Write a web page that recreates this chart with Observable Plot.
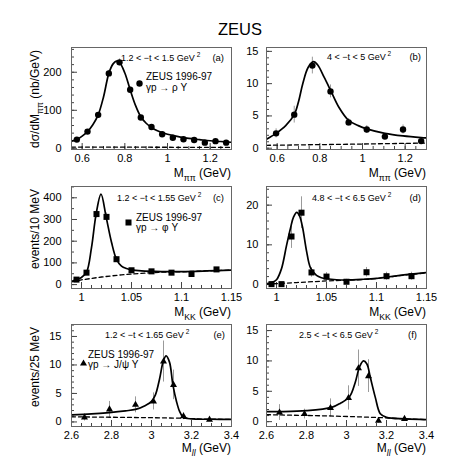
<!DOCTYPE html>
<html><head><meta charset="utf-8">
<script src="https://cdn.jsdelivr.net/npm/d3@7"></script>
<script src="https://cdn.jsdelivr.net/npm/@observablehq/plot@0.6"></script>
<style>
html,body{margin:0;padding:0;background:#fff;}
#chart{position:relative;width:474px;height:474px;font-family:"Liberation Sans",Arial,Helvetica,sans-serif;}
#chart svg{position:absolute;overflow:visible;}
#title{position:absolute;left:0;width:480px;top:21px;text-align:center;font-size:16.5px;line-height:16.5px;color:#000;}
</style></head><body>
<div id="chart"><div id="title">ZEUS</div></div>
<script>
// ---------- data ----------
// (a) rho, 1.2 < -t < 1.5 GeV^2
const rhoA_m   = [0.575,0.625,0.675,0.725,0.775,0.825,0.875,0.925,0.975,1.025,1.075,1.125,1.175,1.225,1.275];
const rhoA_val = [23,44,88,197,226,154,81,56,37,28,24,22,15,19,15];
const rhoA_err = [3,4,6,8,9,7,5,4,3,3,2,2,2,2,2];
const rhoA_fitM = [0.55,0.575,0.6,0.625,0.65,0.675,0.7,0.725,0.745,0.76,0.775,0.8,0.825,0.85,0.875,0.9,0.925,0.95,1.0,1.05,1.1,1.15,1.2,1.25,1.3];
const rhoA_fitV = [19,23,32,44,62,88,135,197,222,229,226,198,154,113,83,66,55,47,37,31,26,23,20,18,16];
const rhoA_bgM = [0.55,0.9,1.3];
const rhoA_bgV = [3.5,3,2.5];

// (b) rho, 4 < -t < 5 GeV^2
const rhoB_m   = [0.595,0.68,0.765,0.85,0.935,1.02,1.105,1.19,1.275];
const rhoB_val = [2.3,5.2,12.8,8.8,4.0,2.9,1.8,2.9,1.1];
const rhoB_err = [0.7,1.3,1.3,1.0,0.6,0.6,0.4,0.7,0.4];
const rhoB_fitM = [0.55,0.595,0.64,0.68,0.70,0.72,0.745,0.77,0.79,0.82,0.85,0.89,0.935,0.98,1.02,1.105,1.19,1.275,1.3];
const rhoB_fitV = [1.4,2.3,3.5,5.2,7.2,10.0,12.5,13.4,12.9,11.0,9.0,6.3,4.3,3.5,3.0,2.3,1.9,1.65,1.6];
const rhoB_bgM = [0.55,0.9,1.3];
const rhoB_bgV = [0.45,0.6,0.8];

// (c) phi, 1.2 < -t < 1.55 GeV^2
const phiC_m   = [0.995,1.005,1.015,1.025,1.035,1.05,1.07,1.09,1.11,1.135];
const phiC_val = [23,55,325,312,117,66,61,55,49,70];
const phiC_err = [5,7,18,18,11,8,8,7,7,8];
const phiC_fitM = [0.99,0.995,1.0,1.005,1.01,1.0146,1.0195,1.0247,1.03,1.035,1.04,1.045,1.05,1.06,1.08,1.1,1.125,1.15];
const phiC_fitV = [14,23,33,56,170,325,417,310,195,116,85,74,68,63,60,60,63,67];
const phiC_bgM = [0.99,1.0,1.02,1.04,1.06,1.08,1.1,1.125,1.15];
const phiC_bgV = [12,22,35,45,52,57,59,63,67];

// (d) phi, 4.8 < -t < 6.5 GeV^2
const phiD_m   = [0.995,1.005,1.015,1.025,1.035,1.05,1.07,1.09,1.11,1.135];
const phiD_val = [0.1,0.1,12.1,18.1,3.05,2.0,0.7,3.1,2.1,2.1];
const phiD_err = [0.4,0.4,3.0,4.0,1.2,1.0,0.6,1.2,1.0,1.0];
const phiD_fitM = [0.99,0.995,1.0,1.005,1.01,1.014,1.017,1.0203,1.023,1.026,1.03,1.034,1.04,1.045,1.05,1.06,1.07,1.085,1.1,1.12,1.15];
const phiD_fitV = [0.2,0.5,1.2,4.0,9.8,14.2,17.0,18.2,17.3,14.5,8.5,4.2,2.3,1.7,1.45,1.2,1.15,1.3,1.55,2.2,3.0];
const phiD_bgM = [0.99,1.02,1.05,1.07,1.085,1.1,1.12,1.15];
const phiD_bgV = [0.1,0.5,0.9,1.1,1.25,1.5,2.15,2.95];

// (e) J/psi, 1.2 < -t < 1.65 GeV^2
const psiE_m   = [2.665,2.79,2.92,3.01,3.06,3.11,3.16,3.29];
const psiE_val = [0.77,2.2,3.0,3.6,10.6,6.5,1.0,0.4];
const psiE_err = [0.6,1.4,1.4,1.5,3.6,2.6,0.6,0.3];
const psiE_fitM = [2.6,2.7,2.79,2.87,2.92,2.97,3.0,3.02,3.04,3.06,3.073,3.09,3.107,3.125,3.14,3.157,3.18,3.22,3.3,3.4];
const psiE_fitV = [1.25,1.4,1.65,1.95,2.2,2.9,3.6,4.8,7.5,10.8,11.6,10.5,6.5,3.6,1.9,0.9,0.6,0.5,0.47,0.45];
const psiE_bgM = [2.6,3.0,3.16,3.25,3.4];
const psiE_bgV = [0.9,0.75,0.65,0.5,0.45];

// (f) J/psi, 2.5 < -t < 6.5 GeV^2
const psiF_m   = [2.665,2.79,2.92,3.01,3.06,3.11,3.16,3.29];
const psiF_val = [1.5,1.25,2.25,3.9,8.8,7.5,0.15,0.45];
const psiF_err = [1.3,0.8,1.5,2.0,3.0,2.7,0.4,0.3];
const psiF_fitM = [2.6,2.67,2.8,2.926,2.968,3.015,3.044,3.065,3.085,3.102,3.119,3.144,3.169,3.2,3.295,3.4];
const psiF_fitV = [1.65,1.65,1.8,2.35,3.0,4.1,6.5,9.0,10.0,9.5,7.3,4.0,1.3,0.7,0.45,0.33];
const psiF_bgM = [2.6,2.9,3.1,3.2,3.3,3.4];
const psiF_bgV = [1.15,0.95,0.75,0.62,0.45,0.33];

// tick labels
const rhoTicksX = [0.6,0.8,1,1.2];
const phiTicksX = [1,1.05,1.1,1.15];
const psiTicksX = [2.6,2.8,3,3.2,3.4];
const ticksYa = [0,100,200];
const ticksYb = [0,5,10,15];
const ticksYc = [0,100,200,300,400];
const ticksYd = [0,10,20];
const ticksYe = [0,5,10,15];

// ---------- layout ----------
const FONT = '"Liberation Sans", Arial, Helvetica, sans-serif';
const W = 237;
const COLS = [{left:0, ml:71, mr:6, pad:10}, {left:237, ml:29, mr:48, pad:8}];
const ROWS = [{top:30, h:150, mt:17, mb:31, xt:28}, {top:180, h:140, mt:6, mb:32, xt:28}, {top:320, h:154, mt:4, mb:48, xt:26}];
const fmt = d => String(Math.round(d * 1000) / 1000);
const steps = (a, b, s) => d3.range(Math.round(a / s), Math.round(b / s) + 1).map(i => +(i * s).toFixed(4));

function rich(sel, x, y, anchor, size, parts, rotate) {
  const t = sel.append("text").attr("x", x).attr("y", y).attr("text-anchor", anchor)
    .attr("font-size", size).attr("font-family", FONT).attr("fill", "#000");
  if (rotate) t.attr("transform", `rotate(${rotate},${x},${y})`);
  let shift = 0;
  for (const p of parts) {
    const sp = t.append("tspan").text(p.t);
    let target = 0, fs = size;
    if (p.s === "sub") { target = 0.3 * size; fs = 0.72 * size; }
    if (p.s === "sup") { target = -0.42 * size; fs = 0.72 * size; }
    sp.attr("dy", target - shift).attr("font-size", fs);
    if (p.i) sp.attr("font-style", "italic");
    shift = target;
  }
  return t;
}

function panel(cfg) {
  const c = COLS[cfg.col], r = ROWS[cfg.row];
  const fw = W - c.ml - c.mr, fh = r.h - r.mt - r.mb;
  const pts = cfg.m.map((m, i) => ({m, v: cfg.v[i], e: cfg.e[i]}));
  const fit = cfg.fitM.map((m, i) => ({m, v: cfg.fitV[i]}));
  const bg = cfg.bgM.map((m, i) => ({m, v: cfg.bgV[i]}));
  const inX = t => t >= cfg.xDomain[0] - 1e-9 && t <= cfg.xDomain[1] + 1e-9;
  const inY = t => t >= cfg.yDomain[0] && t <= cfg.yDomain[1];
  const marks = [
    Plot.axisX(cfg.xMajor, {tickSize: 0, tickPadding: 5, tickFormat: fmt, label: null, fontSize: 11}),
    Plot.axisY(cfg.yMajor, {tickSize: 0, tickPadding: c.pad, tickFormat: fmt, label: null, fontSize: 11}),
    Plot.tickX(cfg.xMajor.filter(inX), {x: d => d, insetTop: fh - 6, stroke: "#444"}),
    Plot.tickX(cfg.xMinor.filter(inX), {x: d => d, insetTop: fh - 3, stroke: "#444"}),
    Plot.tickY(cfg.yMajor.filter(inY), {y: d => d, insetRight: fw - 6, stroke: "#444"}),
    Plot.tickY(cfg.yMinor.filter(inY), {y: d => d, insetRight: fw - 3, stroke: "#444"}),
    Plot.ruleX(pts, {x: "m", y1: d => d.v - d.e, y2: d => d.v + d.e, stroke: "#9a9a9a", strokeWidth: 1, clip: true}),
    Plot.line(bg, {x: "m", y: "v", stroke: "#000", strokeWidth: 1.3, strokeDasharray: "4,3", clip: true}),
    Plot.line(fit, {x: "m", y: "v", curve: "catmull-rom", stroke: "#000", strokeWidth: 1.7, clip: true}),
    Plot.dot(pts, {x: "m", y: "v", symbol: cfg.symbol, r: cfg.r, fill: "#000", stroke: "none"}),
    Plot.frame({stroke: "#666"})
  ];
  if (cfg.legend) marks.push(Plot.dot([cfg.symbol], {frameAnchor: "top-left", dx: cfg.legend.mx, dy: cfg.legend.my, symbol: cfg.symbol, r: cfg.r, fill: "#000", stroke: "none"}));
  const svg = Plot.plot({
    width: W, height: r.h,
    marginLeft: c.ml, marginRight: c.mr, marginTop: r.mt, marginBottom: r.mb,
    style: {fontFamily: FONT, fontSize: "11px", background: "none", overflow: "visible", color: "#000"},
    x: {domain: cfg.xDomain, label: null},
    y: {domain: cfg.yDomain, label: null},
    marks
  });
  svg.style.left = c.left + "px";
  svg.style.top = r.top + "px";
  const s = d3.select(svg);
  const fl = c.ml, ft = r.mt, fr = W - c.mr, fb = r.h - r.mb;
  rich(s, fr, fb + r.xt, "end", 12, cfg.xTitle);
  if (cfg.yTitle) rich(s, 39, ft + 3, "end", 12, cfg.yTitle, -90);
  rich(s, fl + cfg.ann.dx, ft + cfg.ann.dy, "start", 9, [{t: cfg.range}, {t: "\u2009"}, {t: "2", s: "sup"}]);
  rich(s, fr - cfg.ann.tag, ft + cfg.ann.dy, "end", 9.5, [{t: cfg.label}]);
  if (cfg.legend) {
    rich(s, fl + cfg.legend.tx, ft + cfg.legend.t1, "start", 10, [{t: "ZEUS 1996-97"}]);
    rich(s, fl + cfg.legend.tx, ft + cfg.legend.t2, "start", 10, [{t: cfg.legend.proc}]);
  }
  document.getElementById("chart").appendChild(svg);
}

const xRho = [{t: "M"}, {t: "\u03c0\u03c0", s: "sub"}, {t: " (GeV)"}];
const xPhi = [{t: "M"}, {t: "KK", s: "sub"}, {t: " (GeV)"}];
const xPsi = [{t: "M"}, {t: "ll", s: "sub", i: true}, {t: " (GeV)"}];

panel({col: 0, row: 0, xDomain: [0.55, 1.3], yDomain: [-3, 265],
  xMajor: rhoTicksX, xMinor: steps(0.55, 1.3, 0.05), yMajor: ticksYa, yMinor: steps(0, 260, 20),
  m: rhoA_m, v: rhoA_val, e: rhoA_err, fitM: rhoA_fitM, fitV: rhoA_fitV, bgM: rhoA_bgM, bgV: rhoA_bgV,
  symbol: "circle", r: 3.2, xTitle: xRho,
  yTitle: [{t: "d\u03c3/dM"}, {t: "\u03c0\u03c0", s: "sub"}, {t: " (nb/GeV)"}],
  range: "1.2 < \u2212t < 1.5 GeV", label: "(a)", ann: {dx: 50, dy: 14, tag: 7},
  legend: {mx: 68, my: 36, tx: 75, t1: 33, t2: 44, proc: "\u03b3p \u2192 \u03c1 Y"}});

panel({col: 1, row: 0, xDomain: [0.55, 1.3], yDomain: [-0.2, 15.6],
  xMajor: rhoTicksX, xMinor: steps(0.55, 1.3, 0.05), yMajor: ticksYb, yMinor: steps(0, 15, 1),
  m: rhoB_m, v: rhoB_val, e: rhoB_err, fitM: rhoB_fitM, fitV: rhoB_fitV, bgM: rhoB_bgM, bgV: rhoB_bgV,
  symbol: "circle", r: 3.2, xTitle: xRho,
  range: "4 < \u2212t < 5 GeV", label: "(b)", ann: {dx: 61, dy: 13, tag: 5}});

panel({col: 0, row: 1, xDomain: [0.99, 1.15], yDomain: [-18, 452],
  xMajor: phiTicksX, xMinor: steps(0.99, 1.15, 0.01), yMajor: ticksYc, yMinor: steps(0, 450, 50),
  m: phiC_m, v: phiC_val, e: phiC_err, fitM: phiC_fitM, fitV: phiC_fitV, bgM: phiC_bgM, bgV: phiC_bgV,
  symbol: "square", r: 3.4, xTitle: xPhi,
  yTitle: [{t: "events/10 MeV"}],
  range: "1.2 < \u2212t < 1.55 GeV", label: "(c)", ann: {dx: 46, dy: 15, tag: 7},
  legend: {mx: 57, my: 36, tx: 65, t1: 35, t2: 45, proc: "\u03b3p \u2192 \u03c6 Y"}});

panel({col: 1, row: 1, xDomain: [0.99, 1.15], yDomain: [-1, 24.7],
  xMajor: phiTicksX, xMinor: steps(0.99, 1.15, 0.01), yMajor: ticksYd, yMinor: steps(0, 24, 2),
  m: phiD_m, v: phiD_val, e: phiD_err, fitM: phiD_fitM, fitV: phiD_fitV, bgM: phiD_bgM, bgV: phiD_bgV,
  symbol: "square", r: 3.4, xTitle: xPhi,
  range: "4.8 < \u2212t < 6.5 GeV", label: "(d)", ann: {dx: 46, dy: 15, tag: 5}});

panel({col: 0, row: 2, xDomain: [2.6, 3.4], yDomain: [-0.8, 17.1],
  xMajor: psiTicksX, xMinor: steps(2.6, 3.4, 0.05), yMajor: ticksYe, yMinor: steps(0, 17, 1),
  m: psiE_m, v: psiE_val, e: psiE_err, fitM: psiE_fitM, fitV: psiE_fitV, bgM: psiE_bgM, bgV: psiE_bgV,
  symbol: "triangle", r: 2.6, xTitle: xPsi,
  yTitle: [{t: "events/25 MeV"}],
  range: "1.2 < \u2212t < 1.65 GeV", label: "(e)", ann: {dx: 34, dy: 14, tag: 6},
  legend: {mx: 12, my: 39, tx: 17, t1: 34, t2: 44, proc: "\u03b3p \u2192 J/\u03c8 Y"}});

panel({col: 1, row: 2, xDomain: [2.6, 3.4], yDomain: [-0.8, 16],
  xMajor: psiTicksX, xMinor: steps(2.6, 3.4, 0.05), yMajor: ticksYe, yMinor: steps(0, 16, 1),
  m: psiF_m, v: psiF_val, e: psiF_err, fitM: psiF_fitM, fitV: psiF_fitV, bgM: psiF_bgM, bgV: psiF_bgV,
  symbol: "triangle", r: 2.6, xTitle: xPsi,
  range: "2.5 < \u2212t < 6.5 GeV", label: "(f)", ann: {dx: 33, dy: 14, tag: 9}});
</script>
</body></html>
